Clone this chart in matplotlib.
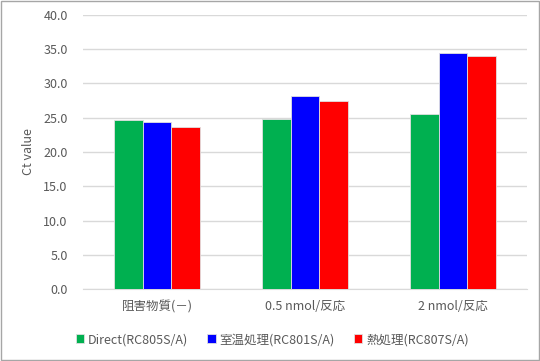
import numpy as np
import matplotlib
matplotlib.use('Agg')
import matplotlib.pyplot as plt
from matplotlib.patches import Rectangle

plt.rcParams['font.family'] = ['Noto Sans CJK JP', 'DejaVu Sans']

# Datos
categorias = ['阻害物質(－)', '0.5 nmol/反応', '2 nmol/反応']
series = ['Direct(RC805S/A)', '室温処理(RC801S/A)', '熱処理(RC807S/A)']
direct = [24.7, 24.8, 25.6]
sitsuon = [24.4, 28.2, 34.5]
netsu = [23.7, 27.4, 34.0]
colores = ['#00B050', '#0000FF', '#FF0000']

fig = plt.figure(figsize=(5.4, 3.61), dpi=100)
ax = fig.add_axes([83 / 540, 1 - 289 / 361, 444 / 540, 274 / 361])

x = np.arange(len(categorias))
ancho = 0.193
for i, (nombre, valores, color) in enumerate(zip(series, [direct, sitsuon, netsu], colores)):
    ax.bar(x + (i - 1) * ancho, valores, ancho, color=color, label=nombre,
           edgecolor='#E0E0E0', linewidth=0.6, zorder=3)

gris = '#595959'
ax.set_ylim(0, 40)
ax.set_xlim(-0.5, 2.5)
ax.set_yticks(np.arange(0, 41, 5))
ax.set_yticklabels([f'{v:.1f}' for v in np.arange(0, 41, 5)])
ax.set_xticks(x)
ax.set_xticklabels(categorias)
ax.tick_params(axis='both', length=0, labelsize=9, colors=gris)
ax.tick_params(axis='y', pad=11)
ax.tick_params(axis='x', pad=8)
ax.grid(axis='y', color='#D9D9D9', linewidth=1, zorder=0)
for lado in ['top', 'right', 'left']:
    ax.spines[lado].set_visible(False)
ax.spines['bottom'].set_color('#D9D9D9')
ax.set_ylabel('Ct value', color=gris, fontsize=9)
ax.yaxis.set_label_coords(-0.108, 0.5)

ax.legend(loc='upper center', bbox_to_anchor=(0.426, -0.12), ncol=3, frameon=False,
          fontsize=9, labelcolor=gris, handlelength=0.7, handleheight=0.7,
          handletextpad=0.3, columnspacing=1.5)

# Borde exterior
fig.patches.append(Rectangle((0.001, 0.002), 0.997, 0.996, transform=fig.transFigure,
                             fill=False, edgecolor='#A6A6A6', linewidth=1))

fig.savefig('out.png', dpi=100)
